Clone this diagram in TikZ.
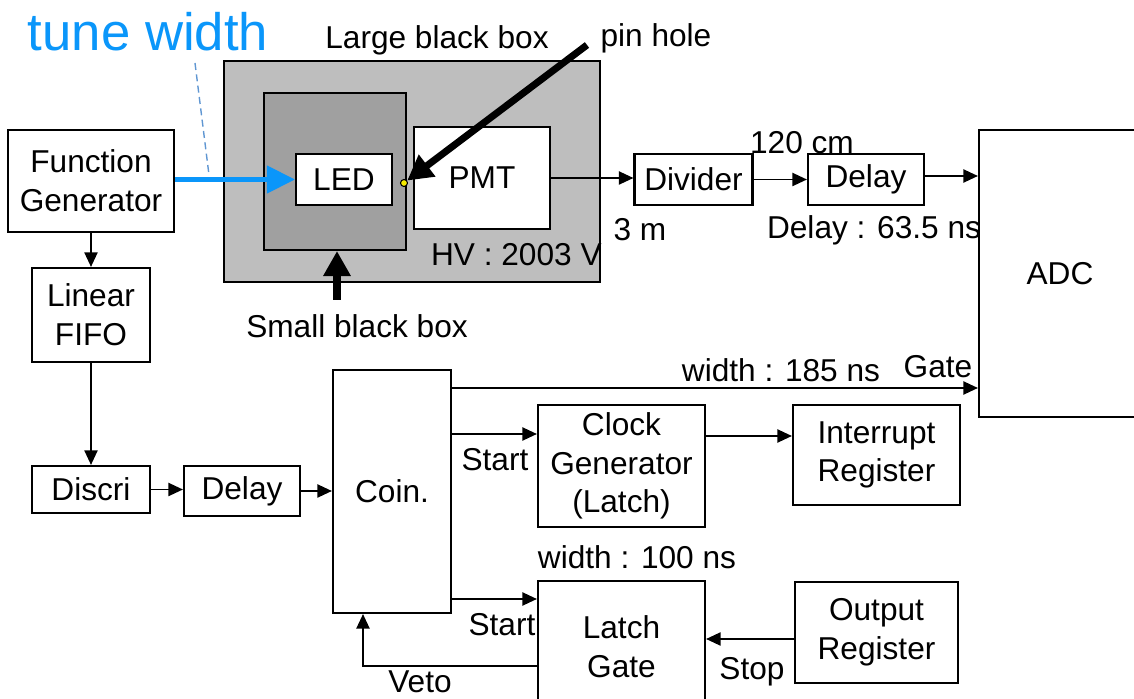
\documentclass[tikz,border=0pt]{standalone}
\usepackage{fontspec}
\setmainfont{Liberation Sans}
\usetikzlibrary{arrows.meta}
\definecolor{tuneblue}{RGB}{10,150,250}
\definecolor{dashblue}{RGB}{95,150,210}
\definecolor{largegray}{RGB}{190,190,190}
\definecolor{smallgray}{RGB}{160,160,160}
\definecolor{pinyellow}{RGB}{245,235,0}
\tikzset{
  blk/.style={draw,line width=1.2pt,fill=white,align=center,inner sep=0pt,font=\fontsize{18}{22}\selectfont},
  arr/.style={line width=1.1pt,-{Triangle[length=2.9mm,width=2.6mm]}},
  fat/.style={line width=4pt,-{Triangle[length=5mm,width=5.2mm]}},
  tune/.style={line width=2.6pt,tuneblue,-{Triangle[length=5.6mm,width=5.4mm]}},
  lbl/.style={inner sep=0pt,font=\fontsize{18}{22}\selectfont}
}

\begin{document}
\begin{tikzpicture}[x=0.02cm,y=-0.02cm]
\useasboundingbox (0,0) rectangle (1134,699);
\clip (0,0) rectangle (1134,699);
% boxes in the dark enclosure
\node[blk,fill=largegray,minimum width=7.52cm,minimum height=4.42cm] (largebox) at (412,171.5) {};
\node[blk,fill=smallgray,minimum width=2.84cm,minimum height=3.14cm] (smallbox) at (335,171.5) {};
\node[blk,minimum width=1.92cm,minimum height=1.02cm] (led) at (344,179.5) {LED};
\node[blk,minimum width=2.72cm,minimum height=2.04cm] (pmt) at (482,178) {PMT};
\node[circle,draw,fill=pinyellow,line width=0.6pt,inner sep=0pt,minimum size=0.14cm] (pin) at (404,183) {};
% signal chain
\node[blk,minimum width=3.32cm,minimum height=2.04cm] (fg) at (91,181) {Function\\Generator};
\node[blk,minimum width=2.36cm,minimum height=1.88cm] (lfifo) at (91,315) {Linear\\FIFO};
\node[blk,minimum width=2.36cm,minimum height=0.94cm] (discri) at (91,489.5) {Discri};
\node[blk,minimum width=2.32cm,minimum height=1.0cm] (dlyb) at (242,491) {Delay};
\node[blk,minimum width=2.36cm,minimum height=4.86cm] (coin) at (392,491.5) {Coin.};
\node[blk,minimum width=3.34cm,minimum height=2.44cm] (clk) at (621.5,466) {Clock\\Generator\\(Latch)};
\node[blk,minimum width=3.34cm,minimum height=2.62cm] (latch) at (621.5,646.5) {Latch\\Gate};
\node[blk,minimum width=3.34cm,minimum height=2.0cm] (intr) at (876.5,455) {Interrupt\\Register};
\node[blk,minimum width=3.26cm,minimum height=2.02cm] (outreg) at (876.5,632.5) {Output\\Register};
\node[blk,minimum width=2.36cm,minimum height=1.02cm] (divider) at (693.5,179.5) {Divider};
\node[blk,minimum width=2.32cm,minimum height=1.02cm] (dlya) at (866,179.5) {Delay};
\node[blk,minimum width=3.24cm,minimum height=5.74cm] (adc) at (1060,273.5) {ADC};
% labels
\node[inner sep=0pt,text=tuneblue,font=\fontsize{30}{34}\selectfont] (tunelbl) at (148,32) {tune width};
\node[lbl] (largelbl) at (437,40) {Large black box};
\node[lbl] (pinlbl) at (656,38) {pin hole};
\node[lbl] (smalllbl) at (357,326) {Small black box};
\node[lbl,anchor=east] (hvlbl) at (602,255) {HV : 2003 V};
\node[lbl] (cablea) at (640,230) {3 m};
\node[lbl] (cableb) at (802,143) {120 cm};
\node[lbl] (dlylbl) at (874,230) {Delay : 63.5 ns};
\node[lbl] (gatewd) at (781,370) {width : 185 ns};
\node[lbl] (gatelbl) at (938,367) {Gate};
\node[lbl] (starta) at (495,460) {Start};
\node[lbl] (latchwd) at (637,557) {width : 100 ns};
\node[lbl] (startb) at (502,625) {Start};
\node[lbl] (vetolbl) at (420,682) {Veto};
\node[lbl] (stoplbl) at (752,672) {Stop};
% pointers
\coordinate (twtop) at (195,63);
\coordinate (twbot) at (209,175);
\coordinate (pinfrom) at (587,45);
\coordinate (sbfrom) at (337,300);
\draw[dashblue,dashed,line width=0.8pt,dash pattern=on 4pt off 2.5pt] (twtop) -- (twbot);
\draw[tune] (fg.east |- led) -- (led.west);
\draw[fat] (pinfrom) -- (pin);
\draw[fat] (sbfrom) -- (smallbox.south -| sbfrom);
% connectors
\draw[arr] (fg.south) -- (lfifo.north);
\draw[arr] (lfifo.south) -- (discri.north);
\draw[arr] (discri.east) -- (dlyb.west |- discri.east);
\draw[arr] (dlyb.east) -- (coin.west |- dlyb.east);
\draw[arr] (pmt.east) -- (divider.west |- pmt.east);
\draw[arr] (divider.east) -- (dlya.west);
\draw[arr] (dlya.east |- 0,176) -- (adc.west |- 0,176);
\draw[arr] (coin.east |- 0,388) -- (adc.west |- 0,388);
\draw[arr] (coin.east |- 0,434) -- (clk.west |- 0,434);
\draw[arr] (clk.east |- 0,436) -- (intr.west |- 0,436);
\draw[arr] (coin.east |- 0,599) -- (latch.west |- 0,599);
\draw[arr] (latch.west |- 0,666) -| (coin.south -| 363,0);
\draw[arr] (outreg.west |- 0,639) -- (latch.east |- 0,639);
\end{tikzpicture}
\end{document}
